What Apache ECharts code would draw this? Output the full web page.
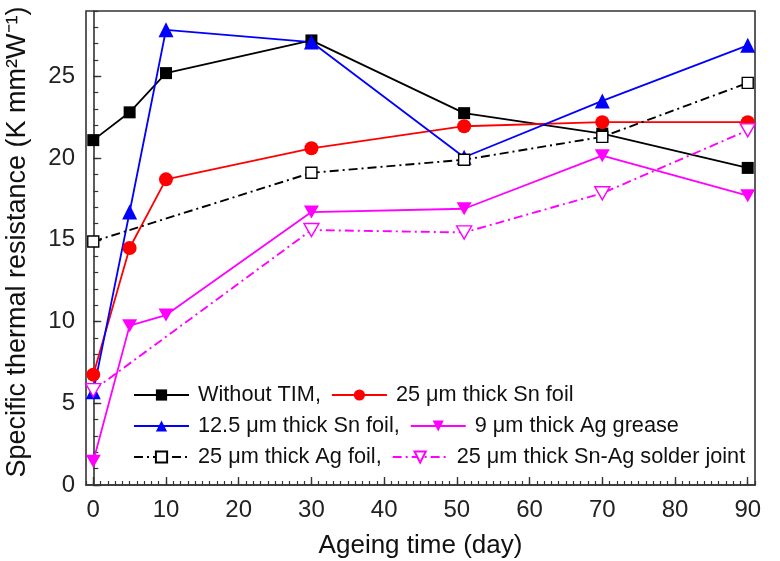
<!DOCTYPE html>
<html><head><meta charset="utf-8">
<script src="https://cdn.jsdelivr.net/npm/echarts@6/dist/echarts.min.js"></script>
<style>html,body{margin:0;padding:0;background:#fff}#c{width:780px;height:561px}</style>
</head><body><div id="c"></div>
<script>
var days = [0, 5, 10, 30, 51, 70, 90];
var withoutTIM = [21.1, 22.8, 25.2, 27.2, 22.75, 21.5, 19.4];
var snFoil25 = [6.75, 14.5, 18.7, 20.6, 21.95, 22.2, 22.2];
var snFoil125 = [5.7, 16.7, 27.85, 27.1, 20.05, 23.5, 26.9];
var agGrease9 = [1.45, 9.75, 10.4, 16.7, 16.9, 20.15, 17.7];
var agFoilDays = [0, 30, 51, 70, 90];
var agFoil25 = [14.9, 19.1, 19.9, 21.3, 24.6];
var solderDays = [0, 30, 51, 70, 90];
var solder25 = [5.8, 15.6, 15.45, 17.85, 21.7];
var xTicks = [0, 10, 20, 30, 40, 50, 60, 70, 80, 90];
var yTicks = [0, 5, 10, 15, 20, 25];
var names = ['Without TIM,', '25 \u03bcm thick Sn foil', '12.5 \u03bcm thick Sn foil,',
             '9 \u03bcm thick Ag grease', '25 \u03bcm thick Ag foil,', '25 \u03bcm thick Sn-Ag solder joint'];

function pairs(xs, ys) { return xs.map(function (x, i) { return [x, ys[i]]; }); }
var FONT = 'Liberation Sans, Arial, sans-serif';
var downTri = 'path://M0,0 L10,0 L5,8.66 Z';
var dashDot = [9, 4, 2, 4];

var chart = echarts.init(document.getElementById('c'));
function legendRow(data, top) {
  return {
    data: data, left: 128, top: top, orient: 'horizontal', padding: 5,
    itemWidth: 55, itemHeight: 14, itemGap: 10,
    textStyle: { fontSize: 21.7, color: '#111', fontFamily: FONT, padding: [0, 0, 0, 4] },
    selectedMode: false
  };
}
chart.setOption({
  animation: false,
  backgroundColor: '#fff',
  grid: { left: 86, right: 25, top: 11, bottom: 76, containLabel: false, outerBoundsMode: 'none',
          show: true, borderColor: '#333', borderWidth: 1.6, backgroundColor: 'transparent' },
  legend: [
    legendRow([names[0], names[1]], 379),
    legendRow([names[2], names[3]], 410),
    legendRow([names[4], names[5]], 441)
  ],
  xAxis: [{
    type: 'value', min: -1, max: 91,
    name: 'Ageing time (day)', nameLocation: 'middle', nameGap: 48,
    nameTextStyle: { fontSize: 26, color: '#111', fontFamily: FONT },
    axisLine: { show: true, lineStyle: { color: '#333', width: 1.6 } },
    axisTick: { show: true, inside: true, length: 8, customValues: xTicks, lineStyle: { color: '#333', width: 1.4 } },
    axisLabel: { customValues: xTicks, fontSize: 24, color: '#222', fontFamily: FONT, margin: 13 },
    splitLine: { show: false }
  }, {
    type: 'value', min: -1, max: 91, interval: 1, position: 'bottom',
    axisLine: { show: false },
    axisTick: { show: true, inside: true, length: 4, lineStyle: { color: '#333', width: 1.2 } },
    axisLabel: { show: false }, splitLine: { show: false }
  }],
  yAxis: [{
    type: 'value', min: 0, max: 29,
    name: 'Specific thermal resistance (K mm\u00b2W\u207b\u00b9)', nameLocation: 'middle', nameGap: 55,
    nameTextStyle: { fontSize: 27, color: '#111', fontFamily: FONT, padding: [0, 0, 0, 12] },
    axisLine: { show: true, lineStyle: { color: '#333', width: 1.6 } },
    axisTick: { show: true, inside: true, length: 8, customValues: yTicks, lineStyle: { color: '#333', width: 1.4 } },
    axisLabel: { customValues: yTicks, fontSize: 24, color: '#222', fontFamily: FONT, margin: 11 },
    splitLine: { show: false }
  }, {
    type: 'value', min: 0, max: 29, interval: 1, position: 'left',
    axisLine: { show: false },
    axisTick: { show: true, inside: true, length: 5, lineStyle: { color: '#333', width: 1.2 } },
    axisLabel: { show: false }, splitLine: { show: false }
  }],
  series: [
    { name: names[0], type: 'line', data: pairs(days, withoutTIM), symbol: 'rect', symbolSize: 12,
      itemStyle: { color: '#000' }, lineStyle: { color: '#000', width: 1.8 } },
    { name: names[1], type: 'line', data: pairs(days, snFoil25), symbol: 'circle', symbolSize: 14,
      itemStyle: { color: '#ff0000' }, lineStyle: { color: '#ff0000', width: 1.8 } },
    { name: names[2], type: 'line', data: pairs(days, snFoil125), symbol: 'triangle', symbolSize: 15,
      itemStyle: { color: '#0000ff' }, lineStyle: { color: '#0000ff', width: 1.8 } },
    { name: names[3], type: 'line', data: pairs(days, agGrease9), symbol: downTri, symbolSize: [15, 13], symbolKeepAspect: false,
      itemStyle: { color: '#ff00ff' }, lineStyle: { color: '#ff00ff', width: 1.8 } },
    { name: names[4], type: 'line', data: pairs(agFoilDays, agFoil25), symbol: 'rect', symbolSize: 11,
      itemStyle: { color: '#fff', borderColor: '#000', borderWidth: 1.4 }, lineStyle: { color: '#000', width: 1.9, type: dashDot } },
    { name: names[5], type: 'line', data: pairs(solderDays, solder25), symbol: downTri, symbolSize: [15, 13],
      itemStyle: { color: '#fff', borderColor: '#ff00ff', borderWidth: 1.4 }, lineStyle: { color: '#ff00ff', width: 1.9, type: dashDot } }
  ]
});
</script></body></html>
